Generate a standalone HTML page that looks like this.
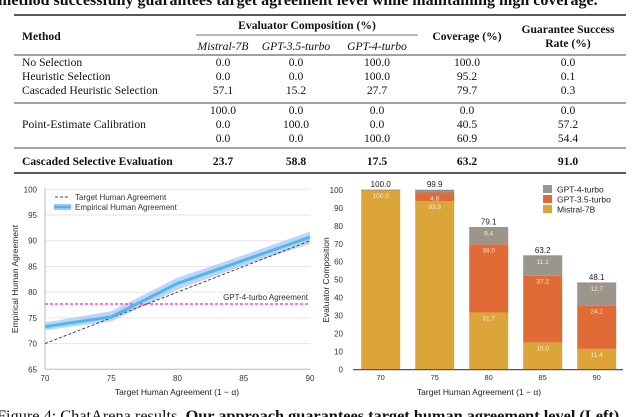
<!DOCTYPE html>
<html><head><meta charset="utf-8"><style>
body{margin:0;width:640px;height:417px;overflow:hidden;background:#fff}
svg{display:block}
.serif{font-family:"Liberation Serif",serif}
.sans{font-family:"Liberation Sans",sans-serif}
</style></head><body>
<svg id="root" width="640" height="417" viewBox="0 0 640 417" xmlns="http://www.w3.org/2000/svg">
<text class="serif" x="-2" y="5" font-size="16" font-weight="bold" fill="#111">method successfully guarantees target agreement level while maintaining high coverage.</text>
<g id="table" class="serif" font-size="11.6" fill="#111">
<line x1="14" x2="626" y1="15" y2="15" stroke="#222" stroke-width="1.5"/>
<line x1="196" x2="418" y1="35" y2="35" stroke="#444" stroke-width="0.7"/>
<line x1="14" x2="626" y1="55" y2="55" stroke="#444" stroke-width="0.9"/>
<line x1="14" x2="626" y1="103" y2="103" stroke="#444" stroke-width="0.9"/>
<line x1="14" x2="626" y1="148" y2="148" stroke="#444" stroke-width="0.9"/>
<line x1="14" x2="626" y1="173" y2="173" stroke="#222" stroke-width="1.5"/>
<text x="22" y="40" font-weight="bold">Method</text>
<text x="307" y="29" font-weight="bold" text-anchor="middle">Evaluator Composition (%)</text>
<text x="223" y="50" font-style="italic" text-anchor="middle">Mistral-7B</text>
<text x="296" y="50" font-style="italic" text-anchor="middle">GPT-3.5-turbo</text>
<text x="377" y="50" font-style="italic" text-anchor="middle">GPT-4-turbo</text>
<text x="467" y="40" font-weight="bold" text-anchor="middle">Coverage (%)</text>
<text x="568" y="33" font-weight="bold" text-anchor="middle">Guarantee Success</text>
<text x="568" y="47" font-weight="bold" text-anchor="middle">Rate (%)</text>
</g>
<g id="lchart" class="sans"></g>
<g id="rchart" class="sans"></g>
<text class="serif" x="-3" y="421" font-size="16.3" fill="#111">Figure 4:  ChatArena results.  <tspan font-weight="bold">Our approach guarantees target human agreement level (Left)</tspan></text>
</svg>
<script>
// table data
const tableRows = [
 ["No Selection","0.0","0.0","100.0","100.0","0.0",66],
 ["Heuristic Selection","0.0","0.0","100.0","95.2","0.1",80],
 ["Cascaded Heuristic Selection","57.1","15.2","27.7","79.7","0.3",94],
 ["","100.0","0.0","0.0","0.0","0.0",114],
 ["Point-Estimate Calibration","0.0","100.0","0.0","40.5","57.2",128],
 ["","0.0","0.0","100.0","60.9","54.4",142],
 ["Cascaded Selective Evaluation","23.7","58.8","17.5","63.2","91.0",165]
];
// left chart data
const agreeX = [70,75,80,85,90];
const empirical = [73.3,75.2,81.7,86.2,90.7];
const bandLow = [72.6,74.3,80.5,85.2,89.4];
const bandHigh = [74.1,76.3,82.8,87.2,91.8];
const gpt4Agreement = 77.7;
const leftYTicks = [65,70,75,80,85,90,95,100];
// right chart data
const barCats = ["70","75","80","85","90"];
const mistral = [100.0,93.8,31.7,15.0,11.4];
const gpt35 = [0,4.8,38.0,37.2,24.1];
const gpt4 = [0,1.3,9.4,11.1,12.7];
const totals = ["100.0","99.9","79.1","63.2","48.1"];
const mistralLbl = ["100.0","93.8","31.7","15.0","11.4"];
const gpt35Lbl = ["","4.8","38.0","37.2","24.1"];
const gpt4Lbl = ["","","9.4","11.1","12.7"];
const rightYTicks = [0,10,20,30,40,50,60,70,80,90,100];

const NS="http://www.w3.org/2000/svg";
function mk(parent,tag,attrs,text){const e=document.createElementNS(NS,tag);for(const k in attrs)e.setAttribute(k,attrs[k]);if(text!==undefined)e.textContent=text;parent.appendChild(e);return e;}

// table
const tbl=document.getElementById('table');
const colX=[223,296,377,467,568];
tableRows.forEach((r,i)=>{
  const bold = i===6?'bold':'normal';
  const t=mk(tbl,'text',{x:22,y:r[6],'font-weight':bold},r[0]);
  
  
  for(let c=0;c<5;c++){
    const v=mk(tbl,'text',{x:colX[c],y:r[6],'text-anchor':'middle','font-weight':bold},r[c+1]);
    
    
  }
});

// left chart
const L=document.getElementById('lchart');
const lx=v=>45+(v-70)/20*265;
const ly=v=>369.3-(v-65)/35*180;
leftYTicks.forEach(t=>{
  if(t>65){const g=mk(L,'line',{x1:45,x2:310,y1:ly(t),y2:ly(t),stroke:'#e6e6e6','stroke-width':1});
  }
  const tl=mk(L,'text',{x:37,y:ly(t)+3,'font-size':8,'text-anchor':'end',fill:'#333'},t);
  
});
agreeX.forEach(t=>{
  const tl=mk(L,'text',{x:lx(t),y:381,'font-size':8,'text-anchor':'middle',fill:'#333'},t);
  
});
mk(L,'line',{x1:45,x2:45,y1:188,y2:369.3,stroke:'#bbb','stroke-width':1});
mk(L,'line',{x1:45,x2:310,y1:369.3,y2:369.3,stroke:'#bbb','stroke-width':1});
let bp='M'+agreeX.map((x,i)=>lx(x)+','+ly(bandHigh[i])).join('L')+'L'+agreeX.slice().reverse().map((x,i)=>lx(x)+','+ly(bandLow[bandLow.length-1-i])).join('L')+'Z';
const band=mk(L,'path',{d:bp,fill:'#a9c6f3',opacity:0.75});

const gl=mk(L,'line',{x1:45,x2:310,y1:ly(gpt4Agreement),y2:ly(gpt4Agreement),stroke:'#ff2a9a','stroke-width':1.3,'stroke-dasharray':'3,2'});

const gt=mk(L,'text',{x:308,y:ly(gpt4Agreement)-4,'font-size':8,'text-anchor':'end',fill:'#333'},'GPT-4-turbo Agreement');

const tgt=mk(L,'path',{d:'M'+agreeX.map(x=>lx(x)+','+ly(x)).join('L'),fill:'none',stroke:'#444','stroke-width':1,'stroke-dasharray':'3,2'});

const emp=mk(L,'path',{d:'M'+agreeX.map((x,i)=>lx(x)+','+ly(empirical[i])).join('L'),fill:'none',stroke:'#4db8f0','stroke-width':3});

mk(L,'line',{x1:55,x2:70,y1:197,y2:197,stroke:'#444','stroke-width':1,'stroke-dasharray':'3,2'});
const l1=mk(L,'text',{x:75,y:200,'font-size':8,fill:'#333'},'Target Human Agreement');

mk(L,'rect',{x:54,y:204,width:17,height:6,fill:'#a9c6f3'});
mk(L,'line',{x1:54,x2:71,y1:207,y2:207,stroke:'#4db8f0','stroke-width':2.5});
const l2=mk(L,'text',{x:75,y:210,'font-size':8,fill:'#333'},'Empirical Human Agreement');

const ytl=mk(L,'text',{x:0,y:0,'font-size':8.5,'text-anchor':'middle',fill:'#222',transform:'translate(18,279) rotate(-90)'},'Empirical Human Agreement');

const xtl=mk(L,'text',{x:177,y:395,'font-size':8.5,'text-anchor':'middle',fill:'#222'},'Target Human Agreement (1 − α)');


// right chart
const R=document.getElementById('rchart');
const ry=v=>369.3-v/100*179.3;
const rx=i=>380.7+i*54;
const bw=39;
rightYTicks.forEach(t=>{
  const tl=mk(R,'text',{x:343,y:ry(t)+3,'font-size':8,'text-anchor':'end',fill:'#333'},t);
  
});
barCats.forEach((c,i)=>{
  const x=rx(i)-bw/2;
  const segs=[[mistral[i],0,'#dca53a',mistralLbl[i],'bar-mistral'],[gpt35[i],mistral[i],'#e06b37',gpt35Lbl[i],'bar-gpt35'],[gpt4[i],mistral[i]+gpt35[i],'#9b958b',gpt4Lbl[i],'bar-gpt4']];
  segs.forEach(s=>{
    if(s[0]<=0)return;
    const r=mk(R,'rect',{x:x,y:ry(s[1]+s[0]),width:bw,height:ry(s[1])-ry(s[1]+s[0]),fill:s[2]});
    
    if(s[3]){const t=mk(R,'text',{x:rx(i),y:ry(s[1]+s[0])+8,'font-size':6.5,'text-anchor':'middle',fill:'#fbe9d0'},s[3]);
      }
  });
  const top=mistral[i]+gpt35[i]+gpt4[i];
  mk(R,'line',{x1:x,x2:x+bw,y1:ry(top),y2:ry(top),stroke:'#888','stroke-width':0.8});
  const tt=mk(R,'text',{x:rx(i),y:ry(top)-3,'font-size':8,'text-anchor':'middle',fill:'#222'},totals[i]);
  
  const xl=mk(R,'text',{x:rx(i),y:380,'font-size':7.5,'text-anchor':'middle',fill:'#333'},c);
  
});
mk(R,'line',{x1:353,x2:623,y1:369.6,y2:369.6,stroke:'#555','stroke-width':1.2});
[['GPT-4-turbo','#9b958b',190],['GPT-3.5-turbo','#e06b37',200],['Mistral-7B','#dca53a',210]].forEach(l=>{
  mk(R,'rect',{x:543,y:l[2]-5,width:9,height:8,fill:l[1]});
  const t=mk(R,'text',{x:557,y:l[2]+2.5,'font-size':8.5,fill:'#222'},l[0]);
  
});
const ryt=mk(R,'text',{x:0,y:0,'font-size':8.5,'text-anchor':'middle',fill:'#222',transform:'translate(329,280) rotate(-90)'},'Evaluator Composition');

const rxt=mk(R,'text',{x:479,y:395,'font-size':8.5,'text-anchor':'middle',fill:'#222'},'Target Human Agreement (1 − α)');

</script>
</body></html>
